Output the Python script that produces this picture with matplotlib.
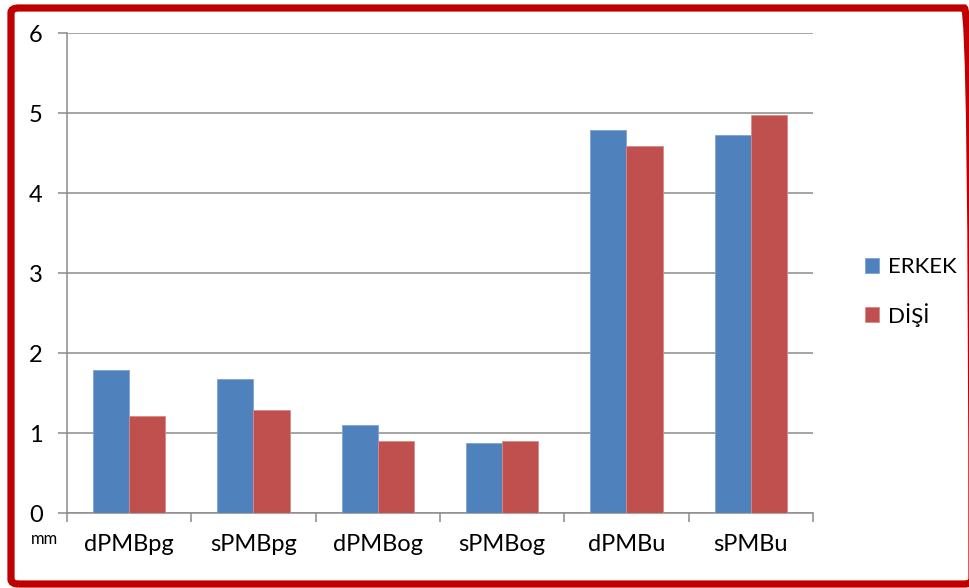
import matplotlib
matplotlib.use("Agg")
import matplotlib.pyplot as plt
import numpy as np
from matplotlib.patches import FancyBboxPatch

categories = ["dPMBpg", "sPMBpg", "dPMBog", "sPMBog", "dPMBu", "sPMBu"]
erkek = [1.79, 1.67, 1.10, 0.88, 4.79, 4.72]
disi = [1.21, 1.29, 0.90, 0.90, 4.59, 4.97]
series_names = ["ERKEK", "DİŞİ"]
y_ticks = [0, 1, 2, 3, 4, 5, 6]

plt.rcParams['font.family'] = ['Lato', 'DejaVu Sans']

W, H = 970, 588
fig = plt.figure(figsize=(W / 100, H / 100), dpi=100)
fig.patch.set_facecolor("white")

ax = fig.add_axes([67 / W, (H - 513) / H, (813 - 67) / W, (513 - 33) / H])

x = np.arange(len(categories))
bw = 0.29
ax.bar(x - bw / 2, erkek, bw, color="#4F81BD", edgecolor="#7FA3D3", linewidth=0.6,
       label=series_names[0], zorder=3)
ax.bar(x + bw / 2, disi, bw, color="#C0504D", edgecolor="#D98A88", linewidth=0.6,
       label=series_names[1], zorder=3)

ax.set_xlim(-0.5, len(categories) - 0.5)
ax.set_ylim(0, 6)
ax.set_yticks(y_ticks)
ax.set_yticklabels([str(v) for v in y_ticks], fontsize=17)
ax.yaxis.grid(True, color="#8C8C8C", linewidth=1.1, zorder=0)
ax.set_axisbelow(True)

ax.set_xticks(x)
ax.set_xticklabels(categories, fontsize=17)
ax.set_xticks(np.arange(len(categories) + 1) - 0.5, minor=True)
ax.tick_params(axis="x", which="major", length=0, pad=15)
ax.tick_params(axis="x", which="minor", length=6.5, color="#8C8C8C", width=1.1)
ax.tick_params(axis="y", length=6.5, color="#8C8C8C", width=1.1, pad=11)

for s in ["top", "right"]:
    ax.spines[s].set_visible(False)
for s in ["left", "bottom"]:
    ax.spines[s].set_color("#8C8C8C")
    ax.spines[s].set_linewidth(1.1)

fig.text(31 / W, 1 - 539 / H, "mm", fontsize=12, va="center", ha="left")

leg = ax.legend(loc="center left", bbox_to_anchor=(856 / W, 1 - 292 / H),
                bbox_transform=fig.transFigure, frameon=False, fontsize=16,
                handlelength=0.65, handleheight=0.65, handletextpad=0.4,
                labelspacing=1.15, borderaxespad=0)

border = FancyBboxPatch((11 / W, 4 / H), (972 - 11) / W, (580 - 4) / H,
                        boxstyle="round,pad=0,rounding_size=0.008",
                        transform=fig.transFigure, fill=False,
                        edgecolor="#C00000", linewidth=5.2, clip_on=False)
fig.patches.append(border)

fig.savefig("out.png", dpi=100)
